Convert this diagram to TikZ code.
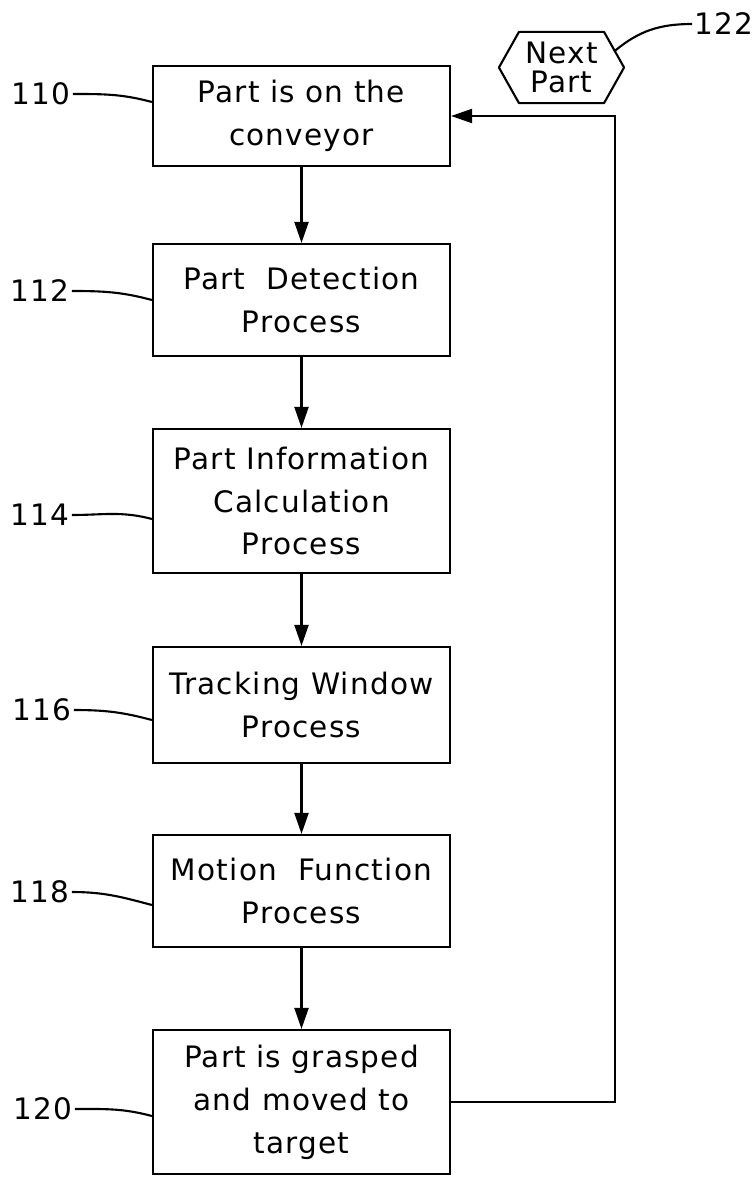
\documentclass[tikz,border=0pt]{standalone}
\usepackage{fontspec}
\setmainfont{DejaVu Sans}[LetterSpace=4]
\usetikzlibrary{arrows.meta}

\begin{document}
\begin{tikzpicture}[x=0.025cm, y=-0.025cm, line width=1.5pt,
	-{Triangle[length=15pt,width=10pt]},
	box/.style={draw, rectangle, minimum width=7.425cm, inner sep=0pt, align=center,
		font=\fontsize{21pt}{30.5pt}\selectfont},
	hex/.style={rectangle, minimum width=2.075cm, minimum height=1.725cm,
		inner sep=0pt, align=center, font=\fontsize{21pt}{21pt}\selectfont},
	lbl/.style={inner sep=1pt, font=\fontsize{21pt}{21pt}\selectfont}]
	\useasboundingbox (0,0) rectangle (755,1177);

	\node[box, minimum height=2.5cm] (b110) at (301.5,116) {Part is on the\\conveyor};
	\node[box, minimum height=2.8cm] (b112) at (301.5,300) {Part\ \ Detection\\Process};
	\node[box, minimum height=3.6cm] (b114) at (301.5,501) {Part Information\\Calculation\\Process};
	\node[box, minimum height=2.9cm] (b116) at (301.5,705) {Tracking Window\\Process};
	\node[box, minimum height=2.8cm] (b118) at (301.5,891) {Motion\ \ Function\\Process};
	\node[box, minimum height=3.6cm] (b120) at (301.5,1102) {Part is grasped\\and moved to\\target};
	\node[hex] (next) at (561.5,67.5) {Next\\Part};
	\draw[-, line join=round] (next.north west) -- (next.north east) -- ([xshift=0.5cm]next.east)
		-- (next.south east) -- (next.south west) -- ([xshift=-0.5cm]next.west) -- cycle;

	\node[lbl] (l110) at (41,94) {110};
	\node[lbl] (l112) at (40,291) {112};
	\node[lbl] (l114) at (40,515) {114};
	\node[lbl] (l116) at (42,710) {116};
	\node[lbl] (l118) at (40,892) {118};
	\node[lbl] (l120) at (43,1109) {120};
	\node[lbl] (l122) at (724,24) {122};

	\draw (b110) to (b112);
	\draw (b112) to (b114);
	\draw (b114) to (b116);
	\draw (b116) to (b118);
	\draw (b118) to (b120);
	\draw (b120.east) -- ++(164,0) |- (b110.east);

	\draw[-] (l110.east) to[out=0,in=165] ([yshift=0.35cm]b110.west);
	\draw[-] (l112.east) to[out=0,in=165] (b112.west);
	\draw[-] (l114.east) to[out=0,in=165] ([yshift=-0.45cm]b114.west);
	\draw[-] (l116.east) to[out=0,in=165] ([yshift=-0.375cm]b116.west);
	\draw[-] (l118.east) to[out=0,in=165] ([yshift=-0.35cm]b118.west);
	\draw[-] (l120.east) to[out=0,in=165] ([yshift=-0.35cm]b120.west);
	\draw[-] (l122.west) to[out=180,in=40] ([xshift=0.25cm,yshift=0.4cm]next.east);
\end{tikzpicture}
\end{document}
